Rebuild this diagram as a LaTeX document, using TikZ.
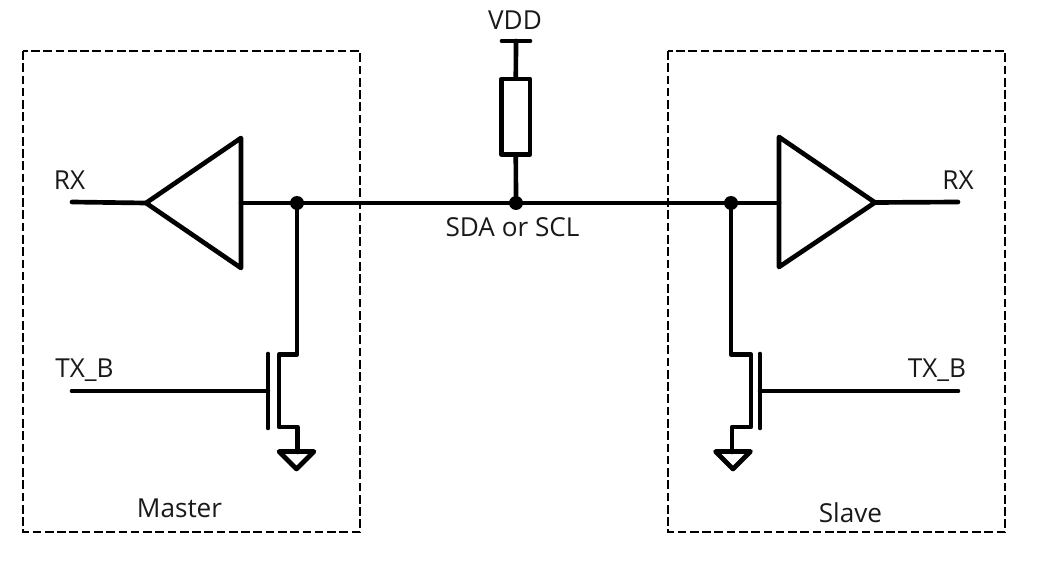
\documentclass[tikz,border=0pt]{standalone}
\usepackage{fontspec}
\setmainfont{Open Sans}
\tikzset{
  wire/.style={line width=3.5pt,line cap=round,line join=round,black},
  boxline/.style={line width=1.4pt,dash pattern=on 6.5pt off 2.7pt,black},
  lbl/.style={inner sep=0pt,font=\fontsize{19.6pt}{22pt}\selectfont,text=black!90!white},
  dotnode/.style={circle,fill=black,inner sep=0pt,minimum size=10.5pt}
}
\begin{document}
\begin{tikzpicture}[x=0.75pt,y=-0.75pt]
\useasboundingbox (0,0) rectangle (1040,563);
% boxes
\node[draw=none,inner sep=0pt,minimum size=0pt] (mtl) at (23,51) {};
\node[draw=none,inner sep=0pt,minimum size=0pt] (mbr) at (360,532) {};
\node[draw=none,inner sep=0pt,minimum size=0pt] (stl) at (668,51) {};
\node[draw=none,inner sep=0pt,minimum size=0pt] (sbr) at (1005,532) {};
\draw[boxline] (mtl.center) rectangle (mbr.center);
\draw[boxline] (stl.center) rectangle (sbr.center);
% coordinates
\coordinate (rxl) at (72,202);
\coordinate (lbt) at (146,203);
\coordinate (lbb) at (241,203);
\coordinate (rbb) at (779,203);
\coordinate (rbt) at (875,202.5);
\coordinate (rxr) at (958,202);
\node[dotnode] (dl) at (297,203) {};
\node[dotnode] (dm) at (516,203) {};
\node[dotnode] (dr) at (731,203) {};
% buffers
\draw[wire] (lbt) -- (241,138) -- (241,268) -- cycle;
\draw[wire] (rbt) -- (779,137) -- (779,267) -- cycle;
\draw[wire] (rxl) -- (lbt);
\draw[wire] (rbt) -- (rxr);
\draw[wire] (lbb) -- (rbb);
% pull-up
\coordinate (vddl) at (502,41);
\coordinate (vddr) at (530,41);
\coordinate (vddc) at (516,41);
\draw[wire] (vddl) -- (vddr);
\node[draw,line width=3.5pt,line join=round,minimum width=28.5*0.75pt,minimum height=75.5*0.75pt,inner sep=0pt,fill=white] (res) at (515.8,116.7) {};
\draw[wire] (vddc) -- (res.north);
\draw[wire] (res.south) -- (dm);
% left MOSFET
\coordinate (lg) at (268,391);
\coordinate (ltx) at (72,391);
\draw[wire] (dl) -- (297,354.5) -- (279,354.5) -- (279,427) -- (297.5,427) -- (297.5,452);
\draw[wire] (268,354) -- (268,428);
\draw[wire] (ltx) -- (lg);
\draw[wire] (279,451.5) -- (314,451.5) -- (296.5,469) -- cycle;
% right MOSFET
\coordinate (rg) at (760,391);
\coordinate (rtx) at (958,391);
\draw[wire] (dr) -- (731,354.5) -- (751,354.5) -- (751,427) -- (732,427) -- (732,452);
\draw[wire] (760,354) -- (760,428);
\draw[wire] (rg) -- (rtx);
\draw[wire] (715.5,451.5) -- (750.5,451.5) -- (733,469) -- cycle;
% labels
\node[lbl] (tvdd) at (515,20) {VDD};
\node[lbl] (tsda) at (512.5,227) {SDA or SCL};
\node[lbl] (trxl) at (69.5,180) {RX};
\node[lbl] (trxr) at (958,180) {RX};
\node[lbl] (ttxl) at (84.5,370) {TX\_B};
\node[lbl] (ttxr) at (937,370) {TX\_B};
\node[lbl] (tm) at (179.5,508) {Master};
\node[lbl] (ts) at (850.5,513) {Slave};
\end{tikzpicture}
\end{document}
